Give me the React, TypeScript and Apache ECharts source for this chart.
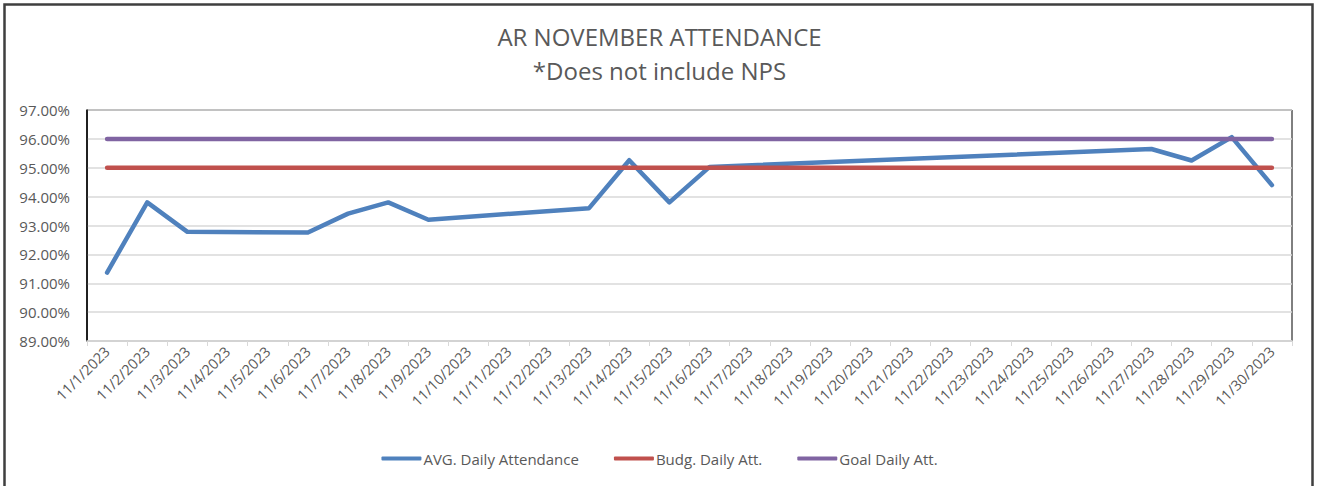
import React, { useEffect, useRef } from "react";
import * as echarts from "echarts";

const categories = [
  "11/1/2023", "11/2/2023", "11/3/2023", "11/4/2023", "11/5/2023", "11/6/2023",
  "11/7/2023", "11/8/2023", "11/9/2023", "11/10/2023", "11/11/2023", "11/12/2023",
  "11/13/2023", "11/14/2023", "11/15/2023", "11/16/2023", "11/17/2023", "11/18/2023",
  "11/19/2023", "11/20/2023", "11/21/2023", "11/22/2023", "11/23/2023", "11/24/2023",
  "11/25/2023", "11/26/2023", "11/27/2023", "11/28/2023", "11/29/2023", "11/30/2023",
];

const avgDaily: (number | null)[] = [
  91.37, 93.8, 92.78, null, null, 92.76,
  93.41, 93.8, 93.2, null, null, null,
  93.6, 95.26, 93.8, 95.03, null, null,
  null, null, null, null, null, null,
  null, null, 95.65, 95.25, 96.06, 94.4,
];

const budgDaily: number[] = categories.map(() => 95);
const goalDaily: number[] = categories.map(() => 96);

const yTicks = { min: 89, max: 97, interval: 1 };

const FONT = "'Open Sans', 'Noto Sans', sans-serif";
const GRAY = "#595959";

export default function App() {
  const ref = useRef<HTMLDivElement>(null);

  useEffect(() => {
    if (!ref.current) return;
    const chart = echarts.init(ref.current, undefined, { renderer: "svg" });
    chart.setOption({
      animation: false,
      backgroundColor: "#ffffff",
      textStyle: { fontFamily: FONT },
      title: {
        text: "AR NOVEMBER ATTENDANCE\n*Does not include NPS",
        left: "center",
        top: 14,
        textStyle: {
          fontFamily: FONT,
          fontSize: 24,
          fontWeight: "normal",
          color: GRAY,
          lineHeight: 34,
        },
      },
      legend: {
        bottom: 15,
        left: "center",
        icon: "roundRect",
        itemWidth: 40,
        itemHeight: 4,
        itemGap: 35,
        textStyle: { fontFamily: FONT, fontSize: 15, color: GRAY, padding: [0, 0, 0, -3] },
        data: ["AVG. Daily Attendance", "Budg. Daily Att.", "Goal Daily Att."],
      },
      grid: {
        left: 87,
        right: 27,
        top: 110,
        bottom: 145,
        show: true,
        borderColor: "#000000",
        borderWidth: 1,
        containLabel: false,
      },
      xAxis: {
        type: "category",
        data: categories,
        boundaryGap: true,
        axisLine: { show: true, lineStyle: { color: "#D9D9D9", width: 1.5 } },
        axisTick: { show: true, length: 5, lineStyle: { color: "#D9D9D9" } },
        axisLabel: {
          rotate: 45,
          interval: 0,
          fontFamily: FONT,
          fontSize: 14.5,
          color: GRAY,
          margin: 8,
        },
        splitLine: { show: false },
      },
      yAxis: {
        type: "value",
        min: yTicks.min,
        max: yTicks.max,
        interval: yTicks.interval,
        axisLine: { show: true, lineStyle: { color: "#000000", width: 1.5 } },
        axisTick: { show: false },
        axisLabel: {
          fontFamily: FONT,
          fontSize: 15,
          color: GRAY,
          margin: 17,
          formatter: (v: number) => v.toFixed(2) + "%",
        },
        splitLine: { show: true, lineStyle: { color: "#D9D9D9", width: 1.5 } },
      },
      series: [
        {
          name: "AVG. Daily Attendance",
          type: "line",
          data: avgDaily,
          connectNulls: true,
          symbol: "none",
          color: "#4F81BD",
          lineStyle: { width: 4.5, color: "#4F81BD", cap: "round", join: "round" },
        },
        {
          name: "Budg. Daily Att.",
          type: "line",
          data: budgDaily,
          symbol: "none",
          color: "#C0504D",
          lineStyle: { width: 4.5, color: "#C0504D", cap: "round" },
        },
        {
          name: "Goal Daily Att.",
          type: "line",
          data: goalDaily,
          symbol: "none",
          color: "#8064A2",
          lineStyle: { width: 4.5, color: "#8064A2", cap: "round" },
        },
      ],
      graphic: [
        {
          type: "rect",
          silent: true,
          z: 100,
          shape: { x: 4.5, y: 4.5, width: 1308, height: 500 },
          style: { fill: "none", stroke: "#3F3F3F", lineWidth: 2.5 },
        },
      ],
    });
    return () => chart.dispose();
  }, []);

  return (
    <div
      ref={ref}
      style={{ position: "absolute", left: 0, top: 0, width: 1319, height: 486 }}
    />
  );
}
